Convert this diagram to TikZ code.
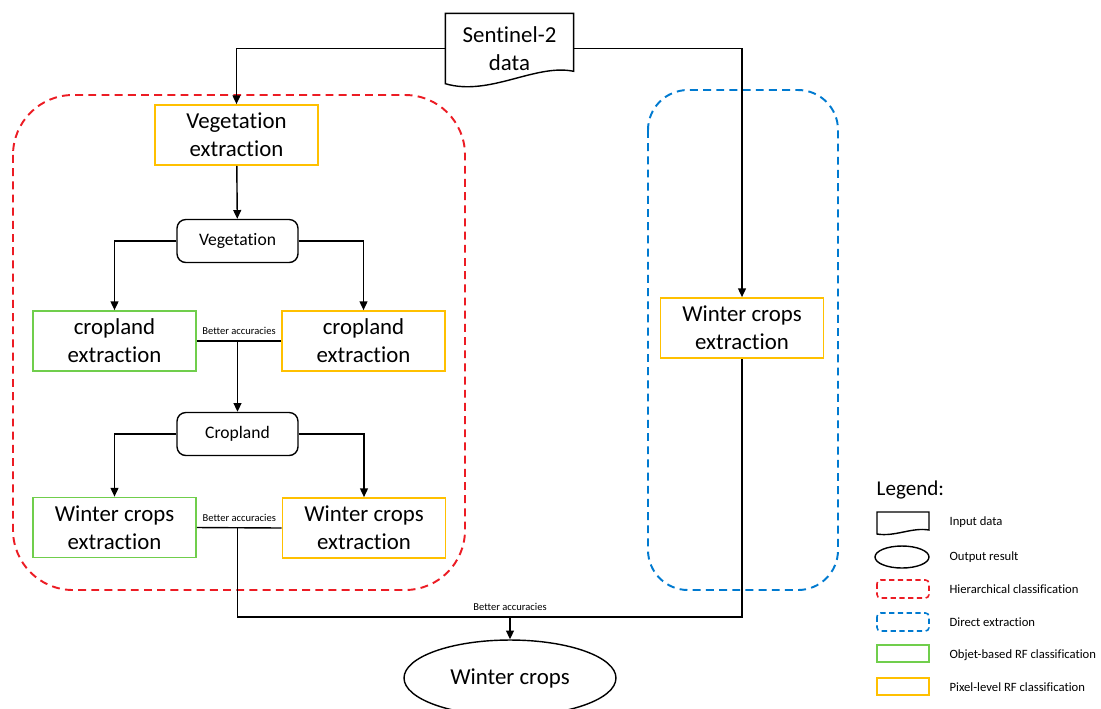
\documentclass[tikz,border=0pt]{standalone}
\usepackage{fontspec}
\setmainfont[Ligatures={NoCommon,NoRare,NoContextual}]{Carlito}
\usetikzlibrary{arrows.meta,shapes.geometric}

\definecolor{objgreen}{RGB}{112,206,76}
\definecolor{pixyellow}{RGB}{255,192,0}
\definecolor{hierred}{RGB}{236,28,36}
\definecolor{directblue}{RGB}{0,122,208}

\begin{document}
\begin{tikzpicture}[x=0.02cm,y=-0.02cm,line width=0.8pt,
    arr/.style={-{Triangle[length=5pt,width=4.5pt]}},
    rfbox/.style={draw,line width=1pt,minimum width=3.26cm,minimum height=1.2cm,align=center,font=\fontsize{13}{16}\selectfont},
    objbox/.style={rfbox,draw=objgreen},
    pixbox/.style={rfbox,draw=pixyellow},
    classbox/.style={draw,rounded corners=5pt,minimum width=2.42cm,minimum height=0.86cm,font=\fontsize{10}{12}\selectfont},
    groupline/.style={line width=1.1pt,dash pattern=on 4.5pt off 3pt},
    note/.style={font=\fontsize{6}{7}\selectfont,inner sep=1pt},
    legtext/.style={anchor=west,font=\fontsize{7.2}{9}\selectfont}]
    \useasboundingbox (0,0) rectangle (1101,708);

    \draw[groupline,hierred,rounded corners=1.2cm] (13,95) rectangle (465,590);
    \draw[groupline,directblue,rounded corners=0.8cm] (648,90) rectangle (838,590);

    \node[align=center,font=\fontsize{13}{16}\selectfont,minimum width=2.54cm,minimum height=1.38cm] (sen) at (509.5,48.5) {Sentinel-2\\data};
    \draw (sen.north west) -- (sen.north east) -- ++(0,58) .. controls +(-38,-8) and +(44,13) .. (sen.south west) -- cycle;

    \node[pixbox] (vegx) at (236.5,135) {Vegetation\\extraction};
    \node[classbox] (veg) at (237.5,241) {Vegetation};
    \node[objbox] (cropo) at (114.5,341) {cropland\\extraction};
    \node[pixbox] (cropp) at (363.5,341) {cropland\\extraction};
    \node[classbox] (crop) at (237.5,434) {Cropland};
    \node[objbox] (wco) at (114.5,527.5) {Winter crops\\extraction};
    \node[pixbox] (wcp) at (364,528) {Winter crops\\extraction};
    \node[pixbox] (wcd) at (742,328) {Winter crops\\extraction};
    \node[ellipse,draw,minimum width=4.24cm,minimum height=1.52cm,font=\fontsize{13}{16}\selectfont] (wc) at (510,678) {Winter crops};

    \draw[arr] (sen.west) -| (vegx.north);
    \draw[arr] (sen.east) -| (wcd.north);
    \draw[arr] (vegx) -- (veg);
    \draw[arr] (veg.west) -| (cropo.north);
    \draw[arr] (veg.east) -| (cropp.north);
    \draw (cropo.east) -- (cropp.west) node[note,midway,above=2pt] (acc1) {Better accuracies};
    \draw[arr] (crop.north |- cropo.east) -- (crop);
    \draw[arr] (crop.west) -| (wco.north);
    \draw[arr] (crop.east) -| (wcp.north);
    \draw (wco.east) -- (wcp.west) node[note,midway,above=2pt] (acc2) {Better accuracies};
    \coordinate (merge) at (510,617);
    \draw (crop.south |- wco.east) |- (merge) -| (wcd.south);
    \draw[arr] (merge) -- (wc);
    \node[note,above=2pt] (acc3) at (merge) {Better accuracies};

    % legend
    \node[anchor=west,font=\fontsize{12}{14}\selectfont,inner sep=0pt] (leg) at (876,490) {Legend:};
    \draw (877,512) -- (929,512) -- (929,530) .. controls (912,527) and (895,537) .. (877,534) -- cycle;
    \draw (902,557) ellipse (27 and 11);
    \draw[hierred,line width=0.9pt,dash pattern=on 3pt off 2pt,rounded corners=2pt] (877,580) rectangle (929,598);
    \draw[directblue,line width=0.9pt,dash pattern=on 3pt off 2pt,rounded corners=2pt] (877,613) rectangle (929,631);
    \draw[objgreen,line width=0.9pt] (877,645) rectangle (929,662);
    \draw[pixyellow,line width=0.9pt] (877,678) rectangle (929,695);
    \node[legtext] (lg1) at (943,522) {Input data};
    \node[legtext] (lg2) at (943,557) {Output result};
    \node[legtext] (lg3) at (943,589) {Hierarchical classification};
    \node[legtext] (lg4) at (943,622) {Direct extraction};
    \node[legtext] (lg5) at (943,655) {Objet-based RF classification};
    \node[legtext] (lg6) at (943,687) {Pixel-level RF classification};
\end{tikzpicture}
\end{document}
